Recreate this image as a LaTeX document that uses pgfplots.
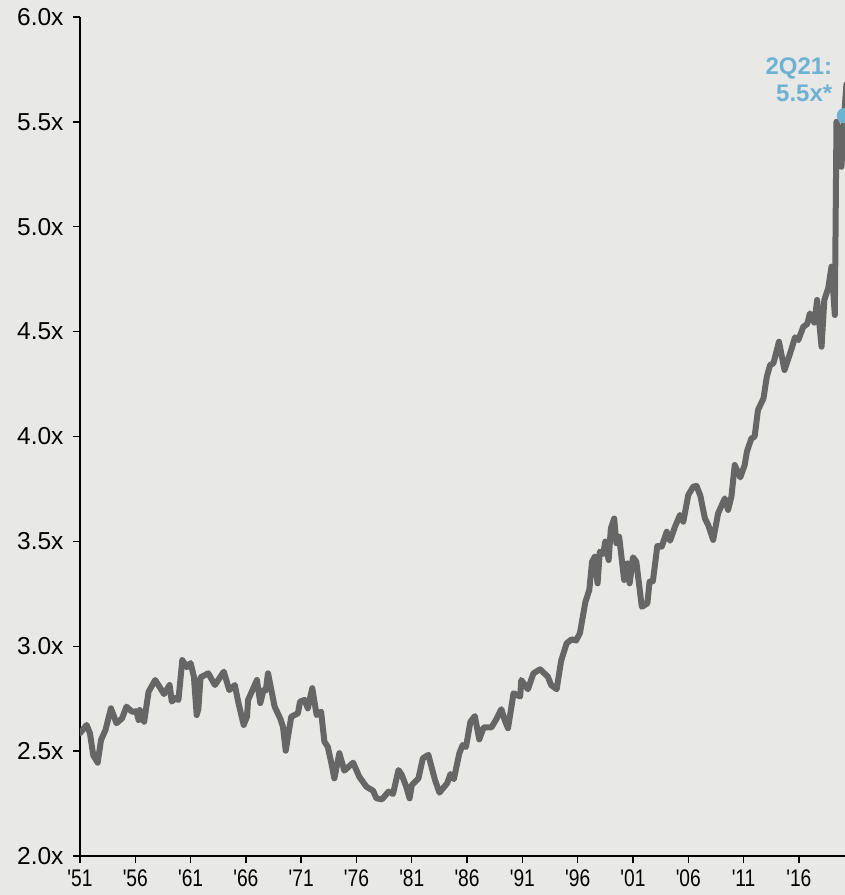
\documentclass[border=0pt]{standalone}
\usepackage{pgfplots}
\pgfplotsset{compat=1.18}
\usepackage{fontspec}
\setmainfont{Liberation Sans}
\definecolor{bg}{RGB}{232,232,230}
\definecolor{ln}{RGB}{102,102,102}
\definecolor{hl}{RGB}{110,178,210}
\pgfplotstableread{
yr val
1951.0 2.585
1951.6 2.625
1951.9 2.585
1952.2 2.48
1952.6 2.445
1952.9 2.553
1953.3 2.60
1953.8 2.704
1954.3 2.633
1954.8 2.656
1955.2 2.712
1955.7 2.688
1956.1 2.690
1956.3 2.648
1956.4 2.696
1956.8 2.64
1957.2 2.783
1957.8 2.839
1958.6 2.772
1959.1 2.815
1959.3 2.736
1959.6 2.753
1959.9 2.744
1960.25 2.934
1960.65 2.90
1961.0 2.92
1961.3 2.855
1961.55 2.672
1961.7 2.70
1961.9 2.852
1962.6 2.871
1963.2 2.815
1964.0 2.879
1964.5 2.791
1965.0 2.815
1965.3 2.736
1965.8 2.625
1966.1 2.664
1966.2 2.744
1967.0 2.839
1967.3 2.729
1967.6 2.791
1967.8 2.79
1968.0 2.871
1968.6 2.712
1969.1 2.656
1969.35 2.617
1969.6 2.502
1970.1 2.664
1970.7 2.68
1970.9 2.736
1971.3 2.744
1971.6 2.704
1972.0 2.80
1972.4 2.672
1972.8 2.688
1973.1 2.545
1973.4 2.521
1973.7 2.45
1974.0 2.37
1974.45 2.49
1974.9 2.407
1975.7 2.445
1976.25 2.378
1976.9 2.33
1977.5 2.311
1977.8 2.275
1978.3 2.27
1978.9 2.307
1979.3 2.296
1979.8 2.41
1980.1 2.386
1980.5 2.33
1980.8 2.275
1981.0 2.338
1981.6 2.37
1982.0 2.466
1982.5 2.482
1983.1 2.362
1983.5 2.302
1984.2 2.347
1984.5 2.391
1984.8 2.366
1985.3 2.49
1985.6 2.529
1985.9 2.52
1986.3 2.64
1986.7 2.667
1987.1 2.556
1987.5 2.613
1988.2 2.613
1988.6 2.648
1989.1 2.70
1989.4 2.648
1989.7 2.609
1990.2 2.776
1990.8 2.76
1990.9 2.839
1991.5 2.795
1992.0 2.871
1992.6 2.89
1993.3 2.855
1993.6 2.815
1994.1 2.795
1994.5 2.93
1995.0 3.014
1995.45 3.033
1995.85 3.027
1996.2 3.062
1996.7 3.212
1997.05 3.268
1997.3 3.403
1997.55 3.427
1997.8 3.30
1998.0 3.451
1998.3 3.44
1998.5 3.499
1998.8 3.411
1999.0 3.562
1999.3 3.609
1999.5 3.491
1999.75 3.522
2000.2 3.316
2000.5 3.395
2000.7 3.30
2001.0 3.424
2001.3 3.403
2001.8 3.188
2002.3 3.204
2002.5 3.308
2002.8 3.31
2003.2 3.478
2003.6 3.475
2004.05 3.546
2004.35 3.503
2004.8 3.57
2005.25 3.626
2005.55 3.594
2006.0 3.721
2006.45 3.761
2006.75 3.764
2007.1 3.716
2007.5 3.61
2007.8 3.578
2008.25 3.507
2008.7 3.634
2009.3 3.705
2009.6 3.65
2009.9 3.713
2010.2 3.864
2010.7 3.805
2011.1 3.864
2011.3 3.928
2011.7 3.99
2012.0 4.00
2012.3 4.126
2012.8 4.182
2013.1 4.285
2013.4 4.341
2013.7 4.349
2014.2 4.452
2014.7 4.317
2015.3 4.412
2015.65 4.473
2015.95 4.46
2016.4 4.523
2016.75 4.536
2017.0 4.587
2017.4 4.543
2017.65 4.651
2018.05 4.428
2018.3 4.651
2018.65 4.706
2018.95 4.81
2019.25 4.579
2019.4 5.50
2019.6 5.45
2019.85 5.286
2020.05 5.50
2020.3 5.68
}\valdata
\begin{document}
\begin{tikzpicture}
\fill[bg] (-80pt,-39pt) rectangle (765pt,856pt);
\begin{axis}[
  scale only axis,
  width=765pt, height=839pt,
  xmin=1951, xmax=2020.17,
  ymin=2, ymax=6,
  axis x line*=bottom, axis y line*=left,
  axis line style={black, line width=1.4pt, -},
  tick style={black, line width=1.4pt},
  tick align=outside,
  major tick length=7pt,
  xtick={1951,1956,1961,1966,1971,1976,1981,1986,1991,1996,2001,2006,2011,2016},
  xticklabels={\textquotesingle51,\textquotesingle56,\textquotesingle61,\textquotesingle66,\textquotesingle71,\textquotesingle76,\textquotesingle81,\textquotesingle86,\textquotesingle91,\textquotesingle96,\textquotesingle01,\textquotesingle06,\textquotesingle11,\textquotesingle16},
  ytick={2,2.5,3,3.5,4,4.5,5,5.5,6},
  yticklabels={2.0x,2.5x,3.0x,3.5x,4.0x,4.5x,5.0x,5.5x,6.0x},
  yticklabel style={font=\fontsize{24.5}{28}\selectfont, text=black, xshift=-6pt},
  xticklabel style={font=\fontsize{24}{28}\selectfont, text=black, xscale=0.8, yshift=-6pt, inner sep=1pt},
  clip=true,
]
\addplot[ln, line width=6pt, line join=round, line cap=round] table[x=yr,y=val]{\valdata};
\addplot[only marks, mark=*, mark size=7.5pt, hl, mark options={draw=hl, fill=hl}] coordinates {(2020.12,5.53)};
\node[hl, font=\bfseries\fontsize{24}{27}\selectfont, align=right, anchor=center] at (axis cs:2016.0,5.70) {2Q21:\\5.5x*};
\end{axis}
\pgfresetboundingbox
\path[use as bounding box] (-80pt,-39pt) rectangle (765pt,856pt);
\end{tikzpicture}
\end{document}
